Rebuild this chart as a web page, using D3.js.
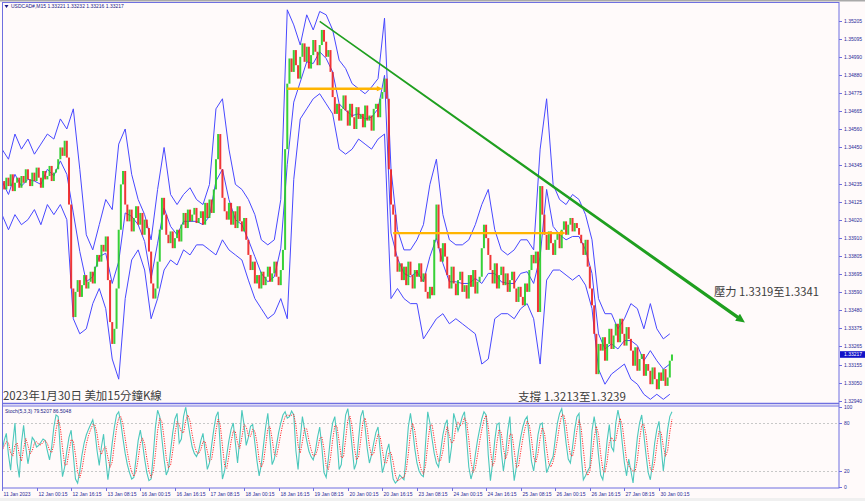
<!DOCTYPE html>
<html><head><meta charset="utf-8">
<script src="https://cdn.jsdelivr.net/npm/d3@7"></script>
<style>body{margin:0;background:#fffafa;} svg{display:block;}</style>
</head><body><svg id="c" width="865" height="501"></svg>
<script>
// ---------- DATA ----------
// close prices, one every 4 bars (M15)
const closes = [
1.3425,1.3420,1.3427,1.3422,1.3429,1.3419,1.3424,1.3427,1.3421,
1.3428,1.3424,1.3432,1.3426,1.3422,1.3430,1.3425,1.3433,1.3427,1.3421,1.3431,1.3426,1.3428,1.3434,1.3425,1.3430,1.3432,
1.3438,1.3445,1.3440,1.3449,1.3439,
1.3411,1.3361,1.3344,
1.3359,1.3366,1.3356,1.3363,1.3369,1.3361,1.3365,1.3371,1.3364,
1.3374,1.3381,1.3377,1.3387,1.3383,1.3392,
1.3366,1.3341,1.3328,1.3337,
1.3361,1.3396,1.3423,1.3431,
1.3411,1.3401,1.3408,1.3395,1.3403,1.3410,1.3399,1.3406,1.3393,1.3402,1.3397,
1.3383,1.3364,1.3355,1.3361,
1.3377,1.3396,1.3415,1.3405,1.3393,
1.3388,1.3395,1.3385,1.3391,1.3396,1.3389,
1.3399,1.3406,1.3397,1.3408,1.3401,1.3405,1.3409,1.3400,1.3403,
1.3407,1.3399,1.3412,1.3403,1.3414,1.3406,1.3420,
1.3438,1.3453,1.3432,1.3415,1.3407,
1.3402,1.3412,1.3399,1.3407,1.3397,1.3410,1.3401,1.3395,1.3403,
1.3390,1.3381,1.3372,1.3377,1.3364,1.3369,1.3361,1.3371,1.3363,1.3368,1.3374,1.3365,
1.3370,1.3377,1.3368,1.3363,1.3372,1.3384,
1.3444,1.3483,1.3498,
1.3490,1.3503,1.3494,1.3486,1.3499,1.3507,1.3496,1.3505,1.3492,1.3500,1.3509,1.3502,1.3494,1.3506,1.3515,1.3508,1.3499,1.3503,
1.3490,1.3475,1.3465,1.3471,1.3461,1.3468,1.3476,
1.3467,1.3458,1.3471,1.3463,1.3456,1.3469,1.3462,1.3465,1.3457,1.3470,1.3461,1.3464,1.3455,1.3468,1.3471,1.3463,1.3474,
1.3478,1.3486,1.3474,
1.3432,1.3411,1.3405,
1.3380,1.3371,1.3376,1.3366,1.3374,1.3363,1.3377,1.3369,1.3361,1.3372,1.3368,1.3376,1.3365,1.3370,
1.3359,1.3355,1.3362,1.3357,
1.3390,1.3411,
1.3385,1.3377,1.3388,1.3380,
1.3369,1.3361,1.3374,1.3364,1.3357,1.3366,1.3371,1.3359,1.3363,1.3355,1.3369,1.3362,1.3372,1.3358,1.3365,1.3368,
1.3385,1.3399,1.3391,1.3381,
1.3372,1.3364,1.3376,1.3361,1.3369,1.3374,1.3363,1.3370,1.3359,1.3366,1.3371,
1.3361,1.3353,1.3362,1.3356,1.3351,1.3364,1.3359,
1.3372,1.3381,1.3376,1.3383,
1.3347,
1.3422,1.3405,
1.3393,1.3384,1.3395,1.3388,1.3381,1.3390,1.3394,1.3385,
1.3396,1.3401,1.3393,1.3399,1.3403,1.3395,1.3400,1.3397,1.3393,
1.3388,1.3381,1.3390,
1.3374,1.3361,1.3351,
1.3334,1.3310,1.3328,
1.3324,1.3332,1.3318,1.3328,1.3337,1.3325,
1.3333,1.3340,1.3329,1.3343,1.3334,1.3327,1.3338,1.3331,
1.3324,1.3315,1.3326,1.3312,1.3319,1.3322,1.3309,1.3316,
1.3312,1.3304,1.3314,1.3307,1.3301,1.3311,1.3306,1.3313,1.3303,1.3308,
1.3318,1.33217
];
// band lines, one every 12 bars
const upperBand = [
1.3444,1.3438,1.3453,1.3444,1.3450,1.3441,1.3447,1.3453,1.3450,1.3462,1.3456,1.3468,1.3432,1.3393,1.3384,1.3399,
1.3414,1.3408,1.3447,1.3456,1.3429,1.3414,1.3405,1.3390,1.3420,1.3445,1.3417,1.3411,1.3417,1.3421,1.3414,1.3411,
1.3423,1.3468,1.3474,1.3444,1.3423,1.3420,1.3414,1.3405,1.3390,1.3387,1.3390,1.3414,1.3527,1.3518,1.3506,1.3524,
1.3515,1.3526,1.3524,1.3515,1.3497,1.3492,1.3483,1.3480,1.3477,1.3481,1.3486,1.3522,1.3432,1.3396,1.3384,1.3384,
1.3390,1.3399,1.3423,1.3438,1.3405,1.3390,1.3387,1.3387,1.3390,1.3399,1.3411,1.3420,1.3396,1.3384,1.3381,1.3384,
1.3390,1.3390,1.3384,1.3444,1.3474,1.3423,1.3414,1.3411,1.3417,1.3414,1.3405,1.3390,1.3355,1.3346,1.3346,1.3337,
1.3343,1.3352,1.3349,1.3337,1.3352,1.3337,1.3331,1.3334
];
const middleBand = [
1.3425,1.3417,1.3429,1.3422,1.3426,1.3425,1.3423,1.3432,1.3428,1.3437,1.3429,1.3406,1.3383,1.3365,1.3368,1.3380,
1.3382,1.3364,1.3377,1.3406,1.3404,1.3399,1.3389,1.3367,1.3388,1.3409,1.3398,1.3393,1.3401,1.3401,1.3401,1.3399,
1.3404,1.3425,1.3432,1.3414,1.3402,1.3399,1.3390,1.3380,1.3370,1.3365,1.3368,1.3385,1.3435,1.3472,1.3484,1.3496,
1.3495,1.3502,1.3498,1.3490,1.3471,1.3467,1.3464,1.3465,1.3462,1.3463,1.3468,1.3488,1.3394,1.3379,1.3370,1.3368,
1.3371,1.3365,1.3380,1.3391,1.3376,1.3365,1.3365,1.3364,1.3364,1.3367,1.3364,1.3370,1.3370,1.3365,1.3364,1.3364,
1.3370,1.3371,1.3364,1.3380,1.3420,1.3398,1.3393,1.3390,1.3392,1.3392,1.3384,1.3370,1.3334,1.3325,1.3328,1.3325,
1.3330,1.3330,1.3327,1.3318,1.3324,1.3318,1.3313,1.3316
];
const lowerBand = [
1.3405,1.3396,1.3405,1.3399,1.3402,1.3408,1.3399,1.3411,1.3405,1.3411,1.3402,1.3343,1.3334,1.3337,1.3352,1.3361,
1.3349,1.3319,1.3307,1.3355,1.3378,1.3384,1.3372,1.3343,1.3355,1.3372,1.3378,1.3375,1.3384,1.3381,1.3387,1.3387,
1.3384,1.3381,1.3390,1.3384,1.3381,1.3378,1.3366,1.3355,1.3349,1.3343,1.3346,1.3355,1.3343,1.3426,1.3462,1.3468,
1.3474,1.3477,1.3471,1.3465,1.3444,1.3441,1.3444,1.3450,1.3447,1.3444,1.3450,1.3453,1.3355,1.3361,1.3355,1.3352,
1.3352,1.3331,1.3337,1.3343,1.3346,1.3340,1.3343,1.3340,1.3337,1.3334,1.3316,1.3319,1.3343,1.3346,1.3346,1.3343,
1.3349,1.3352,1.3343,1.3316,1.3366,1.3372,1.3372,1.3369,1.3366,1.3369,1.3363,1.3349,1.3313,1.3304,1.3310,1.3313,
1.3316,1.3307,1.3304,1.3298,1.3295,1.3298,1.3295,1.3298
];
// Stochastic %K, one every 4 bars
const stochK = [
45,58,67,40,21,55,80,30,12,55,77,50,29,45,62,58,50,52,56,60,58,45,34,50,75,90,88,45,13,25,
45,62,71,40,10,5,20,40,55,65,72,78,84,70,45,27,50,66,35,9,30,55,75,90,94,80,60,42,28,18,
10,12,35,58,71,55,35,18,8,10,40,75,96,88,60,35,15,22,45,68,85,92,55,60,88,100,82,65,50,42,
38,45,58,67,45,22,30,52,72,88,94,50,10,20,40,58,72,80,55,30,60,96,78,52,62,76,78,55,32,14,
28,52,75,92,60,28,35,52,68,80,90,94,86,88,95,90,45,22,60,88,72,58,45,38,34,45,62,75,50,18,
12,35,62,80,88,60,22,28,62,90,98,78,50,22,30,60,88,96,75,48,30,40,55,68,75,45,18,28,45,54,
30,10,5,8,15,12,9,40,75,92,72,48,30,20,15,13,55,94,80,60,42,30,25,45,65,78,84,30,50,92,
82,70,78,88,94,60,25,10,20,40,58,72,85,94,90,40,8,30,58,78,80,45,20,40,70,88,40,8,25,45,
62,75,84,88,60,32,20,40,65,78,80,45,18,25,32,38,60,80,92,98,80,55,35,30,50,72,88,92,40,9,
14,20,25,70,88,70,40,15,9,30,58,78,50,45,80,96,82,55,30,14,35,20,5,35,62,80,90,65,40,18,
9,30,55,72,82,50,20,45,72,88,94
];
const priceTicks = [1.35205,1.35095,1.34990,1.34880,1.34775,1.34665,1.34560,1.34450,1.34345,1.34235,1.34125,
  1.34020,1.33910,1.33805,1.33695,1.33590,1.33480,1.33375,1.33265,1.33155,1.33050,1.32940];
const timeLabels = ["11 Jan 2023","12 Jan 00:15","12 Jan 16:15","13 Jan 08:15","16 Jan 00:15","16 Jan 16:15",
  "17 Jan 08:15","18 Jan 00:15","18 Jan 16:15","19 Jan 08:15","20 Jan 00:15","20 Jan 16:15","23 Jan 08:15",
  "24 Jan 00:15","24 Jan 16:15","25 Jan 08:15","26 Jan 00:15","26 Jan 16:15","27 Jan 08:15","30 Jan 00:15"];
const stochTicks = [100,80,20,0];
const stochLevels = [80,20];
const currentPrice = 1.33217;
const headerText = "USDCAD#,M15  1.33221 1.33232 1.33216 1.33217";
const stochText = "Stoch(5,3,3) 79.5207 86.5048";
const supportLevels = [{bar0:528, bar1:703, price:1.3480},{bar0:724, bar1:1042, price:1.3394}];
const trendLine = {bar0:588, price0:1.35201, bar1:1375, price1:1.33408};
const titleText = "2023年1月30日 美加15分鐘K線";
const supportText = "支撐 1.3213至1.3239";
const resistText = "壓力 1.3319至1.3341";

// ---------- DRAW ----------
const svg = d3.select("#c");
const W = 865, H = 501;
const frameC = "#6f6fe0", axisTxt = "#2a2a99";
const barStep = 4, bandStep = 12, labelStep = 64;

const x = d3.scaleLinear().domain([0, 1216]).range([2, 659]);
const y = d3.scaleLinear().domain([1.32940, 1.35205]).range([401, 20.7]);
const ys = d3.scaleLinear().domain([0, 100]).range([487, 407]);

svg.append("rect").attr("width", W).attr("height", H).attr("fill", "#fffafa");
svg.append("rect").attr("width", W).attr("height", 1.5).attr("fill", "#a9a9a9");
svg.append("rect").attr("y", 498).attr("width", W).attr("height", 3).attr("fill", "#f0f0f0");

const defs = svg.append("defs");
defs.append("clipPath").attr("id", "cm").append("rect").attr("x", 2.5).attr("y", 2.5).attr("width", 836).attr("height", 400.5);
defs.append("clipPath").attr("id", "cs").append("rect").attr("x", 2.5).attr("y", 406.5).attr("width", 836).attr("height", 81);

// grid dashed stoch levels
const gs = svg.append("g").attr("clip-path", "url(#cs)");
gs.selectAll("line.lv").data(stochLevels).join("line")
  .attr("x1", 3).attr("x2", 839).attr("y1", d => Math.round(ys(d)) + 0.5).attr("y2", d => Math.round(ys(d)) + 0.5)
  .attr("stroke", "#c8c8c8").attr("stroke-dasharray", "2,2").attr("stroke-width", 1);

// main panel
const gm = svg.append("g").attr("clip-path", "url(#cm)");
const bandLine = d3.line().x((d, i) => x(i * bandStep)).y(d => y(d)).curve(d3.curveLinear);
[upperBand, middleBand, lowerBand].forEach(arr => {
  gm.append("path").attr("d", bandLine(arr)).attr("fill", "none").attr("stroke", "#4848ff").attr("stroke-width", 1);
});
const candles = closes.map((c, i) => ({i, o: i > 0 ? closes[i - 1] : c, c}));
gm.selectAll("rect.cd").data(candles).join("rect")
  .attr("x", d => x(d.i * barStep) - 1)
  .attr("width", 2)
  .attr("y", d => y(Math.max(d.o, d.c)))
  .attr("height", d => Math.max(1.5, Math.abs(y(d.o) - y(d.c))))
  .attr("fill", d => d.c >= d.o ? "#22cc22" : "#ee2020")
  .attr("opacity", 0.9);

// orange support lines with small arrow heads
supportLevels.forEach(s => {
  const x0 = x(s.bar0), x1 = x(s.bar1), yy = y(s.price);
  gm.append("line").attr("x1", x0).attr("x2", x1 - 3).attr("y1", yy).attr("y2", yy)
    .attr("stroke", "#ffb400").attr("stroke-width", 2.4);
  gm.append("path").attr("d", `M${x1 - 5},${yy - 2.6} L${x1 + 1},${yy} L${x1 - 5},${yy + 2.6} Z`).attr("fill", "#ffb400");
});

// green tapered trend arrow
{
  const x0 = x(trendLine.bar0), y0 = y(trendLine.price0), x1 = x(trendLine.bar1), y1 = y(trendLine.price1);
  const dx = x1 - x0, dy = y1 - y0, L = Math.hypot(dx, dy), ux = dx / L, uy = dy / L, nx = -uy, ny = ux;
  const hl = 9, bx = x1 - ux * hl, by = y1 - uy * hl;
  const w0 = 0.7, w1 = 1.7, hw = 4.2;
  const pts = [[x0 + nx * w0, y0 + ny * w0], [bx + nx * w1, by + ny * w1], [bx + nx * hw, by + ny * hw], [x1, y1],
               [bx - nx * hw, by - ny * hw], [bx - nx * w1, by - ny * w1], [x0 - nx * w0, y0 - ny * w0]];
  svg.append("path").attr("d", "M" + pts.map(p => p.join(",")).join("L") + "Z").attr("fill", "#1f9f1f");
}

// stochastic lines
const stochD = stochK.map((v, i) => { const a = stochK.slice(Math.max(0, i - 2), i + 1); return d3.mean(a); });
const sl = d3.line().x((d, i) => x(i * barStep)).y(d => ys(d));
gs.append("path").attr("d", sl(stochK)).attr("fill", "none").attr("stroke", "#4cc8bc").attr("stroke-width", 1.1);
gs.append("path").attr("d", sl(stochD)).attr("fill", "none").attr("stroke", "#ff2a2a").attr("stroke-width", 1).attr("stroke-dasharray", "1.2,1.2");

// frames
svg.append("rect").attr("x", 2.5).attr("y", 2.5).attr("width", 836.5).attr("height", 485.5).attr("fill", "none").attr("stroke", frameC).attr("stroke-width", 1);
svg.append("line").attr("x1", 2).attr("x2", 839).attr("y1", 403.5).attr("y2", 403.5).attr("stroke", frameC).attr("stroke-width", 1.6);
svg.append("line").attr("x1", 2).attr("x2", 839).attr("y1", 406).attr("y2", 406).attr("stroke", frameC).attr("stroke-width", 1);

// price axis
const gp = svg.append("g").attr("font-family", "Liberation Sans, Arial, sans-serif").attr("font-size", 5).attr("fill", axisTxt);
priceTicks.forEach(p => {
  const yy = Math.round(y(p)) + 0.5;
  gp.append("line").attr("x1", 839).attr("x2", 842).attr("y1", yy).attr("y2", yy).attr("stroke", frameC);
  gp.append("text").attr("x", 844).attr("y", yy + 1.8).text(p.toFixed(5));
});
{
  const yy = y(currentPrice);
  svg.append("rect").attr("x", 840).attr("y", yy - 3.3).attr("width", 25).attr("height", 6.6).attr("fill", "#1212c8");
  svg.append("text").attr("x", 844).attr("y", yy + 1.8).attr("font-family", "Liberation Sans, Arial, sans-serif")
    .attr("font-size", 5).attr("fill", "#ffffff").text(currentPrice.toFixed(5));
}
// stoch axis
stochTicks.forEach(v => {
  const yy = Math.round(ys(v)) + 0.5;
  gp.append("line").attr("x1", 839).attr("x2", 842).attr("y1", yy).attr("y2", yy).attr("stroke", frameC);
  gp.append("text").attr("x", 844).attr("y", yy + 1.8).text(v);
});
// time axis
timeLabels.forEach((t, j) => {
  const xx = Math.round(x(j * labelStep)) + 0.5;
  gp.append("line").attr("x1", xx).attr("x2", xx).attr("y1", 488).attr("y2", 491).attr("stroke", frameC);
  gp.append("text").attr("x", xx + 1).attr("y", 496).text(t);
});

// header and indicator labels
svg.append("path").attr("d", "M4.5,5 L8.5,5 L6.5,8 Z").attr("fill", "#1a1a88");
svg.append("text").attr("x", 11).attr("y", 8).attr("font-family", "Liberation Sans, Arial, sans-serif")
  .attr("font-size", 5).attr("fill", "#1a1a88").text(headerText);
svg.append("text").attr("x", 5).attr("y", 413).attr("font-family", "Liberation Sans, Arial, sans-serif")
  .attr("font-size", 5).attr("fill", "#1a1a88").text(stochText);

// annotations
function note(t, x0, yb, w) {
  const el = svg.append("text").attr("x", x0).attr("y", yb).attr("font-family", "Noto Sans CJK TC, Noto Sans CJK SC, sans-serif")
    .attr("font-size", 12).attr("fill", "#3c3c3c").text(t);
  const len = el.node().getComputedTextLength();
  if (len > 0) el.attr("font-size", 12 * w / len);
}
note(titleText, 3, 400, 159);
note(supportText, 518, 400.5, 108);
note(resistText, 714, 296, 105);
</script></body></html>
